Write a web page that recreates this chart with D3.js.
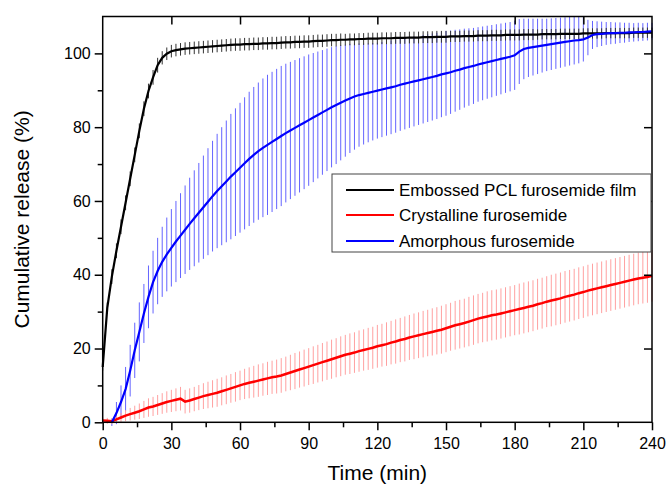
<!DOCTYPE html>
<html>
<head>
<meta charset="utf-8">
<script src="https://cdn.jsdelivr.net/npm/d3@7"></script>
<style>
  body { margin: 0; background: #fff; }
  text { font-family: "Liberation Sans", Arial, sans-serif; fill: #000; }
</style>
</head>
<body>
<svg id="chart" width="667" height="486"></svg>
<script>
// sampling times (min)
var time = [0,2,4,6,8,10,12,14,16,18,20,22,24,26,28,30,32,34,36,38,40,42,44,46,48,50,52,54,56,58,
  60,62,64,66,68,70,72,74,76,78,80,82,84,86,88,90,92,94,96,98,100,102,104,106,108,110,112,114,116,118,
  120,122,124,126,128,130,132,134,136,138,140,142,144,146,148,150,152,154,156,158,160,162,164,166,168,170,172,174,176,178,
  180,182,184,186,188,190,192,194,196,198,200,202,204,206,208,210,212,214,216,218,220,222,224,226,228,230,232,234,236,238,240];

// Embossed PCL furosemide film
var filmMean = [15,31,39.5,46.5,53,59.5,66,72.5,79,85,89.8,93.5,96.8,98.8,99.9,100.6,100.9,101.1,101.3,101.4,
  101.5,101.6,101.7,101.8,101.9,102.0,102.1,102.2,102.3,102.4,102.4,
  102.5,102.5,102.6,102.6,102.7,102.7,102.8,102.8,102.9,103.0,
  103.0,103.1,103.1,103.2,103.2,103.3,103.4,103.4,103.5,103.6,
  103.6,103.7,103.7,103.8,103.8,103.9,103.9,104.0,104.0,104.0,
  104.1,104.1,104.1,104.2,104.2,104.2,104.3,104.3,104.3,104.4,
  104.4,104.4,104.5,104.5,104.5,104.6,104.6,104.6,104.7,104.7,
  104.7,104.8,104.8,104.8,104.9,104.9,104.9,105.0,105.0,105.0,
  105.0,105.1,105.1,105.1,105.1,105.2,105.2,105.2,105.2,105.3,
  105.3,105.3,105.3,105.3,105.4,105.4,105.4,105.4,105.4,105.5,
  105.5,105.5,105.5,105.5,105.5,105.6,105.6,105.6,105.6,105.6];
var filmErr = [1.0,1.5,2.0,2.0,2.0,2.0,2.0,2.0,2.0,2.0,2.0,2.0,2.0,1.8,1.7,1.7,1.7,1.7,1.7,1.7,
  1.7,1.7,1.7,1.7,1.7,1.7,1.7,1.7,1.7,1.7,1.7,
  1.7,1.7,1.7,1.7,1.7,1.7,1.7,1.7,1.7,1.7,
  1.7,1.7,1.7,1.7,1.7,1.7,1.7,1.7,1.7,1.7,
  1.7,1.7,1.6,1.6,1.6,1.6,1.6,1.6,1.6,1.6,
  1.6,1.6,1.6,1.6,1.6,1.6,1.6,1.6,1.6,1.6,
  1.6,1.6,1.6,1.6,1.6,1.5,1.5,1.5,1.5,1.5,
  1.5,1.5,1.5,1.5,1.5,1.5,1.5,1.5,1.5,1.5,
  1.5,1.5,1.5,1.5,1.4,1.4,1.4,1.4,1.4,1.4,
  1.4,1.4,1.4,1.4,1.4,1.4,1.4,1.4,1.4,1.4,
  1.4,1.4,1.4,1.4,1.4,1.4,1.4,1.4,1.4,1.4];

// Crystalline furosemide
var crystMean = [0.5,0.4,0.3,0.8,1.3,1.8,2.2,2.6,3.0,3.5,
  4.0,4.3,4.7,5.1,5.5,5.8,6.1,6.4,5.6,5.9,
  6.3,6.7,7.1,7.4,7.7,8.0,8.4,8.8,9.2,9.6,
  10.0,10.4,10.7,11.0,11.3,11.6,11.9,12.2,12.4,12.7,
  13.1,13.5,13.9,14.3,14.7,15.1,15.5,15.9,16.3,16.7,
  17.1,17.5,17.9,18.3,18.6,18.9,19.3,19.6,19.9,20.2,
  20.6,20.9,21.2,21.6,21.9,22.3,22.6,23.0,23.3,23.6,
  23.9,24.2,24.5,24.8,25.1,25.5,25.9,26.3,26.6,26.9,
  27.3,27.7,28.1,28.4,28.7,29.0,29.2,29.5,29.8,30.1,
  30.4,30.7,31.0,31.3,31.6,32.0,32.3,32.7,33.0,33.3,
  33.6,34.0,34.3,34.6,35.0,35.3,35.7,36.0,36.3,36.6,
  36.9,37.2,37.5,37.8,38.1,38.4,38.7,39.0,39.2,39.4,
  39.7];
var crystErr = [0.8,0.8,0.8,1.0,1.2,1.5,1.7,1.9,2.1,2.3,
  2.5,2.6,2.7,2.8,2.9,3.0,3.1,3.2,3.2,3.3,
  3.3,3.4,3.5,3.6,3.7,3.8,3.8,3.9,3.9,4.0,
  4.0,4.1,4.2,4.3,4.4,4.4,4.5,4.5,4.6,4.7,
  4.7,4.8,4.9,4.9,5.0,5.0,5.1,5.1,5.2,5.2,
  5.3,5.3,5.4,5.4,5.5,5.5,5.6,5.6,5.7,5.7,
  5.8,5.8,5.9,5.9,6.0,6.0,6.1,6.1,6.2,6.2,
  6.3,6.3,6.4,6.4,6.5,6.5,6.5,6.6,6.6,6.6,
  6.7,6.7,6.7,6.7,6.8,6.8,6.8,6.8,6.8,6.8,
  6.8,6.9,6.9,6.9,6.9,6.9,6.9,6.9,7.0,7.0,
  7.0,7.0,7.0,7.0,7.0,7.0,7.0,7.0,7.0,7.0,
  7.0,7.0,7.0,7.0,7.0,7.0,7.0,7.0,7.0,7.0,
  7.0];

// Amorphous furosemide (no reading before 4 min)
var amorphMean = [null,null,0,2.5,5.5,9,14,19.5,24.5,29.5,
  34,38,41,43.5,45.5,47.3,49,50.6,52.2,53.8,
  55.3,56.8,58.3,59.8,61.3,62.7,64,65.3,66.6,67.8,
  69,70.2,71.4,72.5,73.5,74.4,75.2,76,76.8,77.6,
  78.4,79.1,79.8,80.5,81.2,81.9,82.6,83.3,84,84.7,
  85.4,86,86.6,87.2,87.8,88.3,88.7,89,89.3,89.6,
  89.9,90.2,90.5,90.8,91.1,91.5,91.8,92.1,92.4,92.7,
  93,93.3,93.6,93.9,94.3,94.6,94.9,95.3,95.6,96,
  96.3,96.6,97,97.3,97.6,97.9,98.2,98.5,98.8,99.1,
  99.5,100.5,101.2,101.5,101.7,101.9,102.1,102.3,102.5,102.7,
  102.9,103.1,103.3,103.5,103.6,103.8,104.3,105,105.2,105.3,
  105.4,105.5,105.5,105.6,105.6,105.7,105.7,105.8,105.8,105.9,
  106];
var amorphErr = [null,null,1,3,4.5,6,7,7.5,8,8,
  8.5,8.5,9,9.5,10,10.5,11,11.5,12,12.5,
  13,13.5,14,14.5,15,15.5,16,16.5,17,17.3,
  17.6,17.9,18.2,18.4,18.6,18.8,19,19,19,19,
  18.8,18.6,18.4,18.2,18,17.8,17.5,17.2,16.9,16.6,
  16.3,16,15.6,15.2,14.8,14.4,14,13.7,13.4,13.2,
  13,12.9,12.8,12.7,12.6,12.5,12.4,12.3,12.2,12.1,
  12,11.9,11.8,11.7,11.6,11.5,11.3,11.1,10.9,10.7,
  10.5,10.3,10.1,10,9.9,9.8,9.7,9.6,9.5,9.4,
  9.4,8.8,8.2,7.9,7.7,7.5,7.3,7.1,7,6.9,
  6.8,6.7,6.6,6.5,6.3,6,4.8,3.8,3.5,3.3,
  3.1,3,2.9,2.8,2.7,2.6,2.5,2.5,2.4,2.4,
  2.3];

var seriesNames = ["Embossed PCL furosemide film", "Crystalline furosemide", "Amorphous furosemide"];

var xTicks = [0,30,60,90,120,150,180,210,240];
var xMinor = [15,45,75,105,135,165,195,225];
var yTicks = [0,20,40,60,80,100];
var yMinor = [10,30,50,70,90];

(function () {
var svg = d3.select("#chart");
var plotLeft = 102.7, plotRight = 652, plotTop = 16.5, plotBottom = 422.3;

var x = d3.scaleLinear().domain([0, 240]).range([plotLeft, plotRight]);
var y = d3.scaleLinear().domain([0, 110]).range([plotBottom, plotTop]);

function makeSeries(mean, err) {
    var out = [];
    for (var i = 0; i < time.length; i++) {
        if (mean[i] == null) continue;
        out.push({t: time[i], v: mean[i], e: err[i]});
    }
    return out;
}

var film = makeSeries(filmMean, filmErr);
var cryst = makeSeries(crystMean, crystErr);
var amorph = makeSeries(amorphMean, amorphErr);

function errBars(data, color, width) {
    svg.append("g").selectAll("line").data(data).enter().append("line")
        .attr("x1", function (d) { return x(d.t); })
        .attr("x2", function (d) { return x(d.t); })
        .attr("y1", function (d) { return y(d.v - d.e); })
        .attr("y2", function (d) { return y(d.v + d.e); })
        .attr("stroke", color)
        .attr("stroke-width", width);
}

var line = d3.line()
    .x(function (d) { return x(d.t); })
    .y(function (d) { return y(d.v); });

errBars(amorph, "#6464ff", 1);
errBars(cryst, "#ffa0a0", 1);
errBars(film, "#333", 1);

svg.append("path").datum(film).attr("d", line)
    .attr("fill", "none").attr("stroke", "#000").attr("stroke-width", 2.2);
svg.append("path").datum(cryst).attr("d", line)
    .attr("fill", "none").attr("stroke", "#ff0000").attr("stroke-width", 2.5);
svg.append("path").datum(amorph).attr("d", line)
    .attr("fill", "none").attr("stroke", "#0000ff").attr("stroke-width", 2.2);

// axes
svg.append("g").attr("transform", "translate(0," + plotBottom + ")")
    .call(d3.axisBottom(x).tickValues(xTicks).tickSize(8).tickPadding(7));
svg.append("g").attr("transform", "translate(0," + plotBottom + ")")
    .call(d3.axisBottom(x).tickValues(xMinor).tickSize(5).tickFormat(""));
svg.append("g").attr("transform", "translate(" + plotLeft + ",0)")
    .call(d3.axisLeft(y).tickValues(yTicks).tickSize(8).tickPadding(4));
svg.append("g").attr("transform", "translate(" + plotLeft + ",0)")
    .call(d3.axisLeft(y).tickValues(yMinor).tickSize(5).tickFormat(""));
svg.append("g").attr("transform", "translate(0," + plotTop + ")")
    .call(d3.axisTop(x).tickValues(xTicks.slice(1, -1)).tickSize(-8).tickFormat(""));
svg.append("g").attr("transform", "translate(" + plotRight + ",0)")
    .call(d3.axisRight(y).tickValues(yTicks.slice(1)).tickSize(-8).tickFormat(""));

svg.selectAll(".domain").remove();
svg.selectAll(".tick line").attr("stroke", "#000").attr("stroke-width", 1.5);
svg.selectAll(".tick text").style("font-size", "16px").style("font-family", "'Liberation Sans', Arial, sans-serif");

svg.append("rect")
    .attr("x", plotLeft).attr("y", plotTop)
    .attr("width", plotRight - plotLeft).attr("height", plotBottom - plotTop)
    .attr("fill", "none").attr("stroke", "#000").attr("stroke-width", 1.5);

svg.append("text")
    .attr("x", (plotLeft + plotRight) / 2).attr("y", 480)
    .attr("text-anchor", "middle")
    .style("font-size", "21px")
    .text("Time (min)");

svg.append("text")
    .attr("transform", "translate(29," + ((plotTop + plotBottom) / 2) + ") rotate(-90)")
    .attr("text-anchor", "middle")
    .style("font-size", "21px")
    .text("Cumulative release (%)");

// legend
var legend = svg.append("g");
legend.append("rect")
    .attr("x", 332).attr("y", 174).attr("width", 319).attr("height", 78)
    .attr("fill", "#fff").attr("stroke", "#444").attr("stroke-width", 1);
var legendColors = ["#000", "#ff0000", "#0000ff"];
var legendY = [190, 215, 241];
seriesNames.forEach(function (name, i) {
    legend.append("line")
        .attr("x1", 346).attr("x2", 394)
        .attr("y1", legendY[i]).attr("y2", legendY[i])
        .attr("stroke", legendColors[i]).attr("stroke-width", 2);
    legend.append("text")
        .attr("x", 399).attr("y", legendY[i] + 6)
        .style("font-size", "17px")
        .text(name);
});
})();
</script>
</body>
</html>
